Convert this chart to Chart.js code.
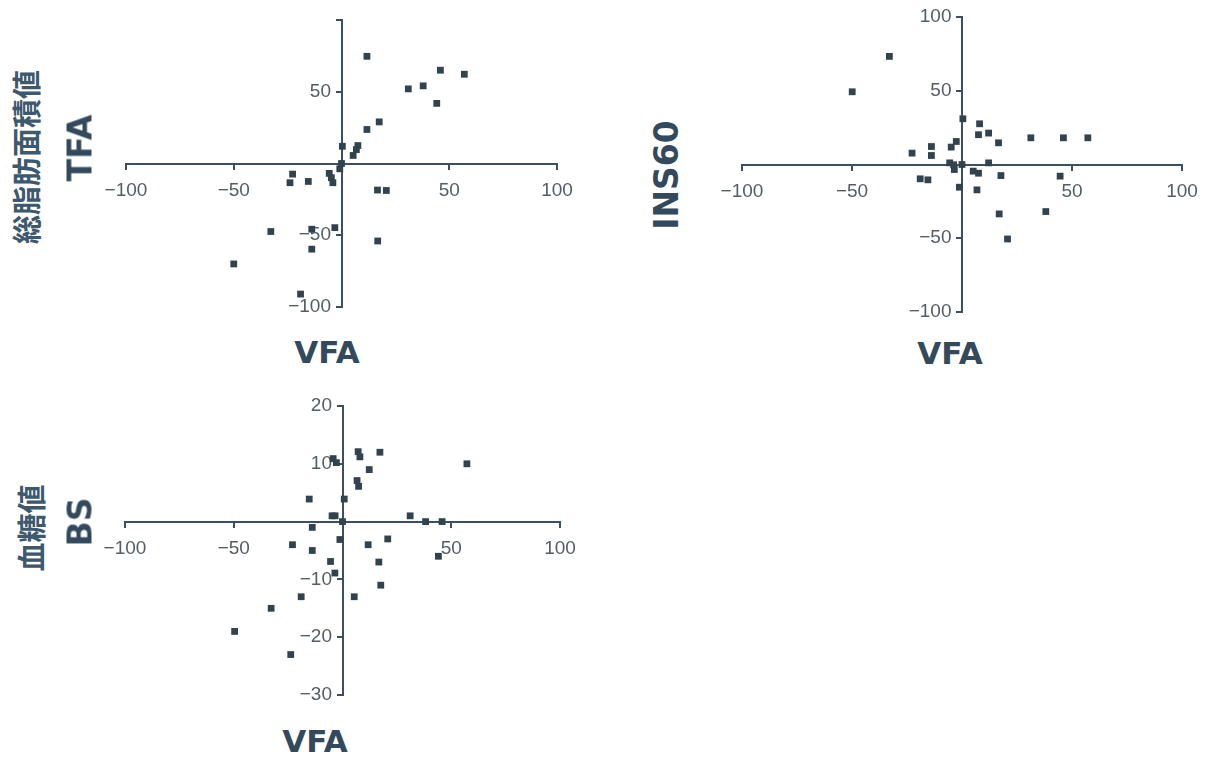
<!DOCTYPE html>
<html>
<head>
<meta charset="utf-8">
<script src="https://cdn.jsdelivr.net/npm/chart.js@4/dist/chart.umd.min.js"></script>
<style>
  body { margin: 0; background: #fff; width: 1207px; height: 759px; position: relative; overflow: hidden; }
  canvas.plot { position: absolute; }
  .lbl { position: absolute; color: #34495b; font-family: "DejaVu Sans", sans-serif; font-weight: bold; white-space: nowrap; line-height: 1; }
  .rot { transform: translate(-50%, -50%) rotate(-90deg); }
  .hz { transform: translate(-50%, -50%); }
  .jp { font-family: "Noto Sans CJK JP", sans-serif; color: #3e586d; }
</style>
</head>
<body>
<canvas id="tfaChart" class="plot"></canvas>
<canvas id="insChart" class="plot"></canvas>
<canvas id="bsChart" class="plot"></canvas>

<div class="lbl jp rot" style="left:25px; top:157px; font-size:29px;">総脂肪面積値</div>
<div class="lbl rot" style="left:80px; top:148px; font-size:33px;">TFA</div>
<div class="lbl hz" style="left:327px; top:352px; font-size:31px;">VFA</div>

<div class="lbl rot" style="left:666px; top:175px; font-size:33px;">INS60</div>
<div class="lbl hz" style="left:950px; top:353px; font-size:31px;">VFA</div>

<div class="lbl jp rot" style="left:30px; top:528px; font-size:29px;">血糖値</div>
<div class="lbl rot" style="left:80px; top:522px; font-size:33px;">BS</div>
<div class="lbl hz" style="left:315px; top:741px; font-size:31px;">VFA</div>

<script>
// 値は図から読み取った推定値
const vfaTicks = [-100, -50, 0, 50, 100];
const vfaTickLabels = ['−100', '−50', '', '50', '100'];

const tfaTicks = [-100, -50, 0, 50, 100];
const tfaTickLabels = ['−100', '−50', '', '50', ''];
const tfaVfa = [11.8, 45.9, 57, 31, 37.9, 44.2, 17.5, 11.8, 0.4, 7.6, 6.9, 5.4, 0, -0.8, -22.7, -23.9, -15.4, -5.7, -4.7, -4, 16.7, 20.8, -32.8, -13.8, -3.1, 16.8, -13.8, -50, -19];
const tfaVals = [74.7, 65, 62.2, 52, 54.1, 41.9, 29, 23.7, 12, 12.5, 9.7, 5.6, 0, -3.7, -7.4, -13.4, -12.5, -6.9, -9.9, -13.4, -18.5, -18.8, -47.4, -45.8, -44.7, -54, -59.7, -70, -91];

const insTicks = [-100, -50, 0, 50, 100];
const insTickLabels = ['−100', '−50', '', '50', '100'];
const insVfa = [-33, -49.9, 0.4, 8, 7.5, 12.1, 16.6, 31.3, 46.1, 57.2, -22.7, -13.9, -13.9, -2.6, -4.9, -5.6, -3.8, -3.5, 0, 12.1, 5.1, 7.5, 17.7, 44.6, -19, -15.5, -1.2, 6.8, 16.9, 38.1, 20.7];
const insVals = [73.3, 49.3, 31, 27.6, 20.2, 21.3, 14.7, 18.1, 18.1, 18.1, 7.7, 12.2, 6.1, 15.6, 11.8, 1.1, -0.2, -3.4, 0, 1.1, -4.5, -5.9, -7.5, -7.9, -9.7, -10.4, -15.4, -17.2, -33.5, -31.9, -50.5];

const bsTicks = [-30, -20, -10, 0, 10, 20];
const bsTickLabels = ['−30', '−20', '−10', '', '10', '20'];
const bsVfa = [7.2, 17.2, 8, -4.3, -2.8, 57.2, 12.3, 6.7, 7.4, -15.3, 0.8, -4.8, -3.4, 0, 31.1, 38.2, 45.8, -13.9, -1.2, -23, -13.9, 11.8, 20.8, -5.5, 16.7, 44.1, -3.5, 17.6, -19, 5.4, -32.8, -49.6, -23.8];
const bsVals = [12.1, 12, 11.2, 10.9, 10.2, 10, 9, 7.1, 6.1, 3.9, 3.9, 1, 1, 0, 1, 0, 0, -1, -3.1, -4, -5, -4, -3, -6.9, -7, -6, -8.9, -11, -13, -13, -15, -19, -23];

const axisColor = '#3c5061';
const tickColor = '#545d66';
const pointColor = '#33434e';

function makeScale(ticks, labels, pos, isX) {
    return {
        type: 'linear',
        min: ticks[0],
        max: ticks[ticks.length - 1],
        position: pos,
        afterBuildTicks: function(scale) {
            scale.ticks = ticks.map(v => ({ value: v }));
        },
        afterFit: function(scale) {
            // 軸は原点を通るので、レイアウト上の幅・余白は取らない
            if (isX) scale.height = 0; else scale.width = 0;
            scale.paddingLeft = scale.paddingRight = scale.paddingTop = scale.paddingBottom = 0;
        },
        grid: { display: true, drawOnChartArea: false, drawTicks: true, tickLength: 5, color: axisColor, lineWidth: 2 },
        border: { display: true, color: axisColor, width: 2 },
        ticks: {
            autoSkip: false,
            maxRotation: 0,
            color: tickColor,
            font: { family: '"Liberation Sans", Arial, sans-serif', size: 19 },
            padding: 11,
            callback: function(value) {
                const i = ticks.indexOf(value);
                if (i < 0 || !labels[i]) return '';
                // 縦軸ラベルは軸から少し離す
                return isX ? labels[i] : labels[i] + '  ';
            }
        }
    };
}

function drawScatter(id, box, xs, ys, yTicks, yLabels) {
    const el = document.getElementById(id);
    el.style.left = box.left + 'px';
    el.style.top = box.top + 'px';
    el.width = box.width;
    el.height = box.height;
    el.style.width = box.width + 'px';
    el.style.height = box.height + 'px';
    return new Chart(el, {
        type: 'scatter',
        data: {
            datasets: [{
                data: xs.map((x, i) => ({ x: x, y: ys[i] })),
                pointStyle: 'rect',
                pointRadius: 4.8,
                backgroundColor: pointColor,
                borderWidth: 0
            }]
        },
        options: {
            responsive: false,
            animation: false,
            layout: { padding: { left: 30, right: 30, top: 15, bottom: 15 } },
            scales: {
                x: makeScale(vfaTicks, vfaTickLabels, { y: 0 }, true),
                y: makeScale(yTicks, yLabels, { x: 0 }, false)
            },
            plugins: { legend: { display: false }, tooltip: { enabled: false } }
        }
    });
}

drawScatter('tfaChart', { left: 96, top: 5, width: 491, height: 317 }, tfaVfa, tfaVals, tfaTicks, tfaTickLabels);
drawScatter('insChart', { left: 712, top: 2, width: 500, height: 325 }, insVfa, insVals, insTicks, insTickLabels);
drawScatter('bsChart', { left: 95, top: 391, width: 495, height: 319 }, bsVfa, bsVals, bsTicks, bsTickLabels);
</script>
</body>
</html>
